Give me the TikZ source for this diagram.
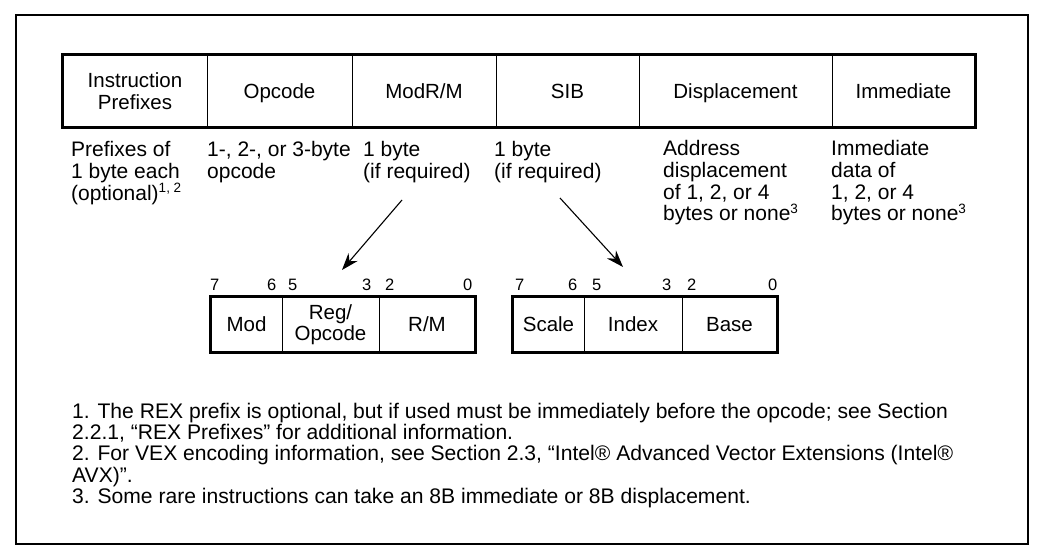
\documentclass[tikz,border=0pt]{standalone}
\usepackage{fontspec}
\setmainfont{Liberation Sans}
\usetikzlibrary{arrows.meta}
\newcommand\barfont{\fontsize{20.5}{22}\selectfont}
\newcommand\boxfont{\fontsize{20.5}{21}\selectfont}
\newcommand\lblfont{\fontsize{21}{21.7}\selectfont}
\newcommand\bitfont{\fontsize{16.5}{16.5}\selectfont}
\newcommand\fnfont{\fontsize{21.1}{21.4}\selectfont}
\newcommand\sups[1]{\raisebox{7.5pt}{\fontsize{13.5}{13.5}\selectfont #1}}
\tikzset{
  cell/.style={draw, line width=1pt, inner sep=0pt, font=\barfont, align=center, minimum height=72pt},
  oneline/.style={text height=14.7pt, text depth=0pt},
  bcell/.style={draw, line width=1pt, inner sep=0pt, font=\boxfont, align=center, minimum height=55pt},
  lbl/.style={anchor=base west, inner sep=0pt, align=left, font=\lblfont},
  bit/.style={anchor=base west, inner sep=0pt, font=\bitfont},
  outline/.style={line width=3pt},
  pointer/.style={line width=1.1pt, -{Stealth[length=17pt,width=12pt]}},
}
\begin{document}
\begin{tikzpicture}[x=1pt,y=-1pt]
\useasboundingbox (0,0) rectangle (1044,556);
\draw[line width=2pt] (16,15) rectangle (1028,544);
% instruction format bar
\node[cell, minimum width=144pt] (c1) at (135,91) {Instruction\\Prefixes};
\node[cell, oneline, minimum width=145pt] (c2) at (279.5,91) {Opcode};
\node[cell, oneline, minimum width=144pt] (c3) at (424,91) {ModR/M};
\node[cell, oneline, minimum width=143pt] (c4) at (567.5,91) {SIB};
\node[cell, oneline, minimum width=193pt] (c5) at (735.5,91) {Displacement};
\node[cell, oneline, minimum width=143pt] (c6) at (903.5,91) {Immediate};
\draw[outline] (c1.north west) rectangle (c6.south east);
% labels (anchor = baseline of the last line)
\node[lbl] (l1) at (71,200.4) {Prefixes of\\1 byte each\\(optional)\sups{1, 2}};
\node[lbl] (l2) at (207,178.7) {1-, 2-, or 3-byte\\opcode};
\node[lbl] (l3) at (363,178.7) {1 byte\\(if required)};
\node[lbl] (l4) at (494,178.7) {1 byte\\(if required)};
\node[lbl] (l5) at (663,221) {Address\\displacement\\of 1, 2, or 4\\bytes or none\sups{3}};
\node[lbl] (l6) at (831,221) {Immediate\\data of\\1, 2, or 4\\bytes or none\sups{3}};
% ModR/M byte
\node[bcell, oneline, minimum width=71pt] (m1) at (246.5,324.5) {Mod};
\node[bcell, minimum width=97pt] (m2) at (330.5,324.5) {Reg/\\Opcode};
\node[bcell, oneline, minimum width=96pt] (m3) at (427,324.5) {R/M};
\draw[outline] (m1.north west) rectangle (m3.south east);
\node[bit] (mb7) at (210,290) {7};
\node[bit] (mb6) at (267,290) {6};
\node[bit] (mb5) at (288,290) {5};
\node[bit] (mb3) at (362,290) {3};
\node[bit] (mb2) at (385,290) {2};
\node[bit] (mb0) at (463,290) {0};
% SIB byte
\node[bcell, oneline, minimum width=71pt] (s1) at (548.5,324.5) {Scale};
\node[bcell, oneline, minimum width=98pt] (s2) at (633,324.5) {Index};
\node[bcell, oneline, minimum width=95pt] (s3) at (729.5,324.5) {Base};
\draw[outline] (s1.north west) rectangle (s3.south east);
\node[bit] (sb7) at (515,290) {7};
\node[bit] (sb6) at (568,290) {6};
\node[bit] (sb5) at (592,290) {5};
\node[bit] (sb3) at (662,290) {3};
\node[bit] (sb2) at (687,290) {2};
\node[bit] (sb0) at (768,290) {0};
% pointers
\coordinate (a1s) at (402,200);
\coordinate (a1e) at (342,270);
\coordinate (a2s) at (560,198);
\coordinate (a2e) at (623,267);
\draw[pointer] (a1s) -- (a1e);
\draw[pointer] (a2s) -- (a2e);
% footnotes (anchor = baseline of the last line)
\node[anchor=base west, inner sep=0pt, align=left, font=\fnfont] (fn) at (72,503.6) {1. The REX prefix is optional, but if used must be immediately before the opcode; see Section\\
2.2.1, “REX Prefixes” for additional information.\\
2. For VEX encoding information, see Section 2.3, “Intel® Advanced Vector Extensions (Intel®\\
AVX)”.\\
3. Some rare instructions can take an 8B immediate or 8B displacement.};
\end{tikzpicture}
\end{document}
